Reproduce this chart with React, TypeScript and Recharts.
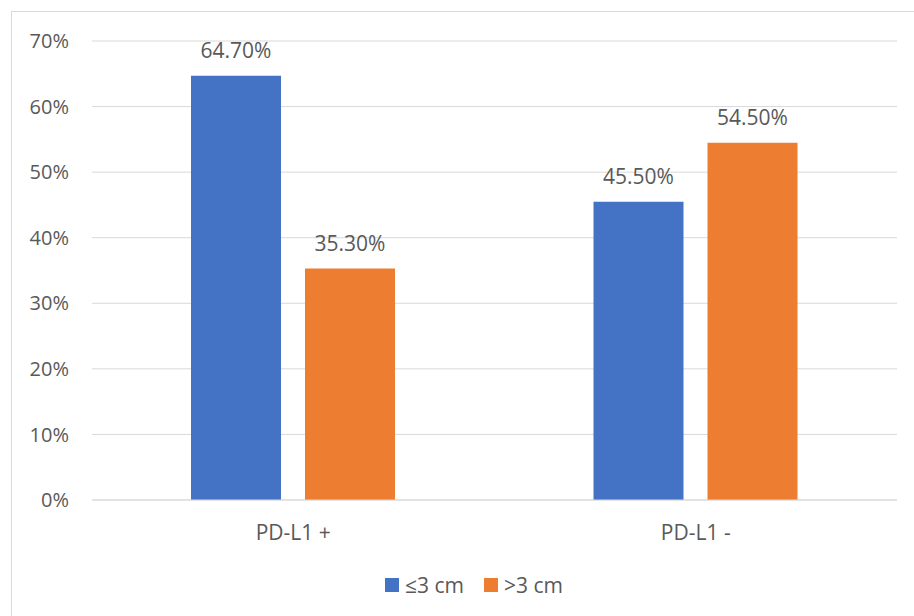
import React from 'react';
import { BarChart, Bar, XAxis, YAxis, CartesianGrid, Legend, LabelList } from 'recharts';

const categories = ['PD-L1 +', 'PD-L1 -'];
const smallValues = [64.7, 45.5];
const largeValues = [35.3, 54.5];
const yTicks = [0, 10, 20, 30, 40, 50, 60, 70];
const seriesNames = ['≤3 cm', '>3 cm'];
const colors = ['#4472C4', '#ED7D31'];

const data = categories.map((c, i) => ({ name: c, small: smallValues[i], large: largeValues[i] }));

const FONT = '"Open Sans", "Noto Sans", sans-serif';
const TEXT = '#595959';
const GRID = '#D9D9D9';

const LegendContent = () => (
  <div style={{ display: 'flex', justifyContent: 'center', alignItems: 'center', fontFamily: FONT, fontSize: 21, color: TEXT, height: 28, paddingLeft: 34, boxSizing: 'border-box' }}>
    {seriesNames.map((n, i) => (
      <div key={n} style={{ display: 'flex', alignItems: 'center', marginLeft: i === 0 ? 0 : 20 }}>
        <div style={{ width: 14, height: 14, background: colors[i], marginRight: 6 }} />
        <span style={{ lineHeight: '28px' }}>{n}</span>
      </div>
    ))}
  </div>
);

export default function App() {
  return (
    <div style={{ position: 'absolute', left: 0, top: 0, width: 914, height: 616, overflow: 'hidden', background: '#fff' }}>
      <div style={{ position: 'absolute', left: 11, top: 11, width: 940, height: 640, border: `1px solid ${GRID}`, boxSizing: 'border-box' }} />
      <div style={{ position: 'absolute', left: 0, top: 0 }}>
        <BarChart width={914} height={616} data={data} margin={{ top: 41, right: 17, left: 0, bottom: 48 }} barSize={90} barGap={24}>
          <CartesianGrid vertical={false} stroke={GRID} strokeWidth={1} />
          <XAxis
            dataKey="name"
            axisLine={{ stroke: GRID }}
            tickLine={false}
            tickSize={0}
            tickMargin={25}
            height={40}
            tick={{ fill: TEXT, fontSize: 21, fontFamily: FONT }}
          />
          <YAxis
            domain={[0, 70]}
            ticks={yTicks}
            width={92}
            axisLine={false}
            tickLine={false}
            tickSize={0}
            tickMargin={23}
            tickFormatter={(v: number) => `${v}%`}
            tick={{ fill: TEXT, fontSize: 20, fontFamily: FONT }}
          />
          <Legend
            content={<LegendContent />}
            wrapperStyle={{ position: 'absolute', top: 571, left: 0, width: 914 }}
          />
          <Bar dataKey="small" name={seriesNames[0]} fill={colors[0]} isAnimationActive={false}>
            <LabelList dataKey="small" position="top" offset={18} formatter={(v: number) => `${v.toFixed(2)}%`} style={{ fill: TEXT, fontSize: 21, fontFamily: FONT }} />
          </Bar>
          <Bar dataKey="large" name={seriesNames[1]} fill={colors[1]} isAnimationActive={false}>
            <LabelList dataKey="large" position="top" offset={18} formatter={(v: number) => `${v.toFixed(2)}%`} style={{ fill: TEXT, fontSize: 21, fontFamily: FONT }} />
          </Bar>
        </BarChart>
      </div>
    </div>
  );
}
